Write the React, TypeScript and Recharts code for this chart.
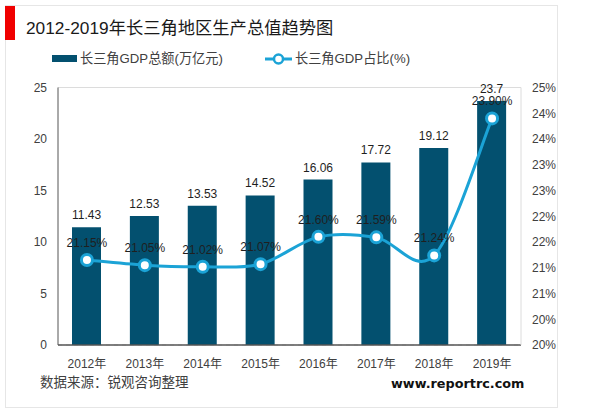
import { ComposedChart, Bar, Line, XAxis, YAxis, CartesianGrid, LabelList, ReferenceLine } from 'recharts';

const years = ["2012年", "2013年", "2014年", "2015年", "2016年", "2017年", "2018年", "2019年"];
const gdp = [11.43, 12.53, 13.53, 14.52, 16.06, 17.72, 19.12, 23.7];
const share = [21.15, 21.05, 21.02, 21.07, 21.6, 21.59, 21.24, 23.9];
const leftTicks = [0, 5, 10, 15, 20, 25];
const rightTicks = [19.5, 20, 20.5, 21, 21.5, 22, 22.5, 23, 23.5, 24, 24.5];

const FONT = '"Liberation Sans", "Noto Sans CJK SC", sans-serif';
const TEXT = "#404040";
const LABEL = "#1f1f1f";
const BAR = "#03506f";
const LINE = "#1ba3d6";

const data = years.map((year, i) => ({ year, gdp: gdp[i], share: share[i] }));

// excel style smoothed line
function smoothCurve(context: any) {
  let pts: [number, number][] = [];
  return {
    areaStart() {},
    areaEnd() {},
    lineStart() {
      pts = [];
    },
    point(x: number, y: number) {
      pts.push([+x, +y]);
    },
    lineEnd() {
      pts.forEach((p, i) => {
        if (i === 0) {
          context.moveTo(p[0], p[1]);
          return;
        }
        const p0 = pts[i - 1];
        const before = pts[Math.max(i - 2, 0)];
        const after = pts[Math.min(i + 1, pts.length - 1)];
        context.bezierCurveTo(
          p0[0] + (p[0] - before[0]) / 6,
          p0[1] + (p[1] - before[1]) / 6,
          p[0] - (after[0] - p0[0]) / 6,
          p[1] - (after[1] - p0[1]) / 6,
          p[0],
          p[1]
        );
      });
    },
  };
}

const abs = (left: number, top: number, extra: object = {}) => ({
  position: "absolute" as const,
  left,
  top,
  whiteSpace: "nowrap" as const,
  fontFamily: FONT,
  color: TEXT,
  ...extra,
});

export default function App() {
  return (
    <div style={{ position: "absolute", left: 0, top: 0, width: 600, height: 412, background: "#fff", overflow: "hidden" }}>
      <div style={{ position: "absolute", left: 5, top: 5, width: 551, height: 401, border: "1px solid #e6e6e6" }} />
      <div style={{ position: "absolute", left: 5, top: 6, width: 10, height: 34, background: "#f00000" }} />
      <div style={abs(26, 17, { fontSize: 17.3, lineHeight: "22px", color: "#1a1a1a" })}>2012-2019年长三角地区生产总值趋势图</div>

      <div style={{ position: "absolute", left: 52, top: 55, width: 25, height: 7, background: BAR }} />
      <div style={abs(80, 50, { fontSize: 13.2, lineHeight: "18px" })}>长三角GDP总额(万亿元)</div>
      <svg style={{ position: "absolute", left: 262, top: 50 }} width={32} height={18}>
        <line x1={3} y1={9} x2={30} y2={9} stroke={LINE} strokeWidth={3} />
        <circle cx={16.5} cy={9} r={4.5} fill="#fff" stroke={LINE} strokeWidth={2.5} />
      </svg>
      <div style={abs(295, 50, { fontSize: 13.2, lineHeight: "18px" })}>长三角GDP占比(%)</div>

      <ComposedChart
        width={600}
        height={412}
        data={data}
        margin={{ top: 87.5, right: 0, bottom: 0, left: 0 }}
        style={{ position: "absolute", left: 0, top: 0 }}
      >
        <CartesianGrid vertical={false} stroke="#d9d9d9" strokeDasharray="4 4" />
        <XAxis
          dataKey="year"
          height={67}
          axisLine={{ stroke: "#555", strokeWidth: 1.5 }}
          tickLine={false}
          tickMargin={8}
          interval={0}
          tick={{ fontSize: 12, fill: TEXT, fontFamily: FONT }}
        />
        <YAxis
          yAxisId="left"
          width={58}
          domain={[0, 25]}
          ticks={leftTicks}
          axisLine={{ stroke: "#555", strokeWidth: 1 }}
          tickLine={false}
          tickMargin={5}
          tick={{ fontSize: 12, fill: TEXT, fontFamily: FONT }}
        />
        <YAxis
          yAxisId="right"
          orientation="right"
          width={79}
          domain={[19.5, 24.5]}
          ticks={rightTicks}
          interval={0}
          axisLine={{ stroke: "#dcdcdc" }}
          tickLine={false}
          tickMargin={5}
          tickFormatter={(v: number) => Math.round(v) + "%"}
          tick={{ fontSize: 12, fill: TEXT, fontFamily: FONT }}
        />
        <ReferenceLine yAxisId="left" y={25} stroke="#dcdcdc" />
        <Bar yAxisId="left" dataKey="gdp" fill={BAR} barSize={29} isAnimationActive={false}>
          <LabelList dataKey="gdp" position="top" offset={8} fill={LABEL} fontSize={12} fontFamily={FONT} />
        </Bar>
        <Line
          yAxisId="right"
          dataKey="share"
          type={smoothCurve as any}
          stroke={LINE}
          strokeWidth={3}
          dot={{ r: 5.5, fill: "#fff", stroke: LINE, strokeWidth: 3 }}
          isAnimationActive={false}
        >
          <LabelList
            dataKey="share"
            position="top"
            offset={13}
            fill={LABEL}
            fontSize={12}
            fontFamily={FONT}
            formatter={(v: any) => Number(v).toFixed(2) + "%"}
          />
        </Line>
      </ComposedChart>

      <div style={abs(40, 374, { fontSize: 13.5, lineHeight: "18px" })}>数据来源：锐观咨询整理</div>
      <div style={abs(391, 375, { fontSize: 12.8, lineHeight: "18px", fontWeight: "bold", color: "#111", fontFamily: '"DejaVu Sans", sans-serif' })}>www.reportrc.com</div>
    </div>
  );
}
